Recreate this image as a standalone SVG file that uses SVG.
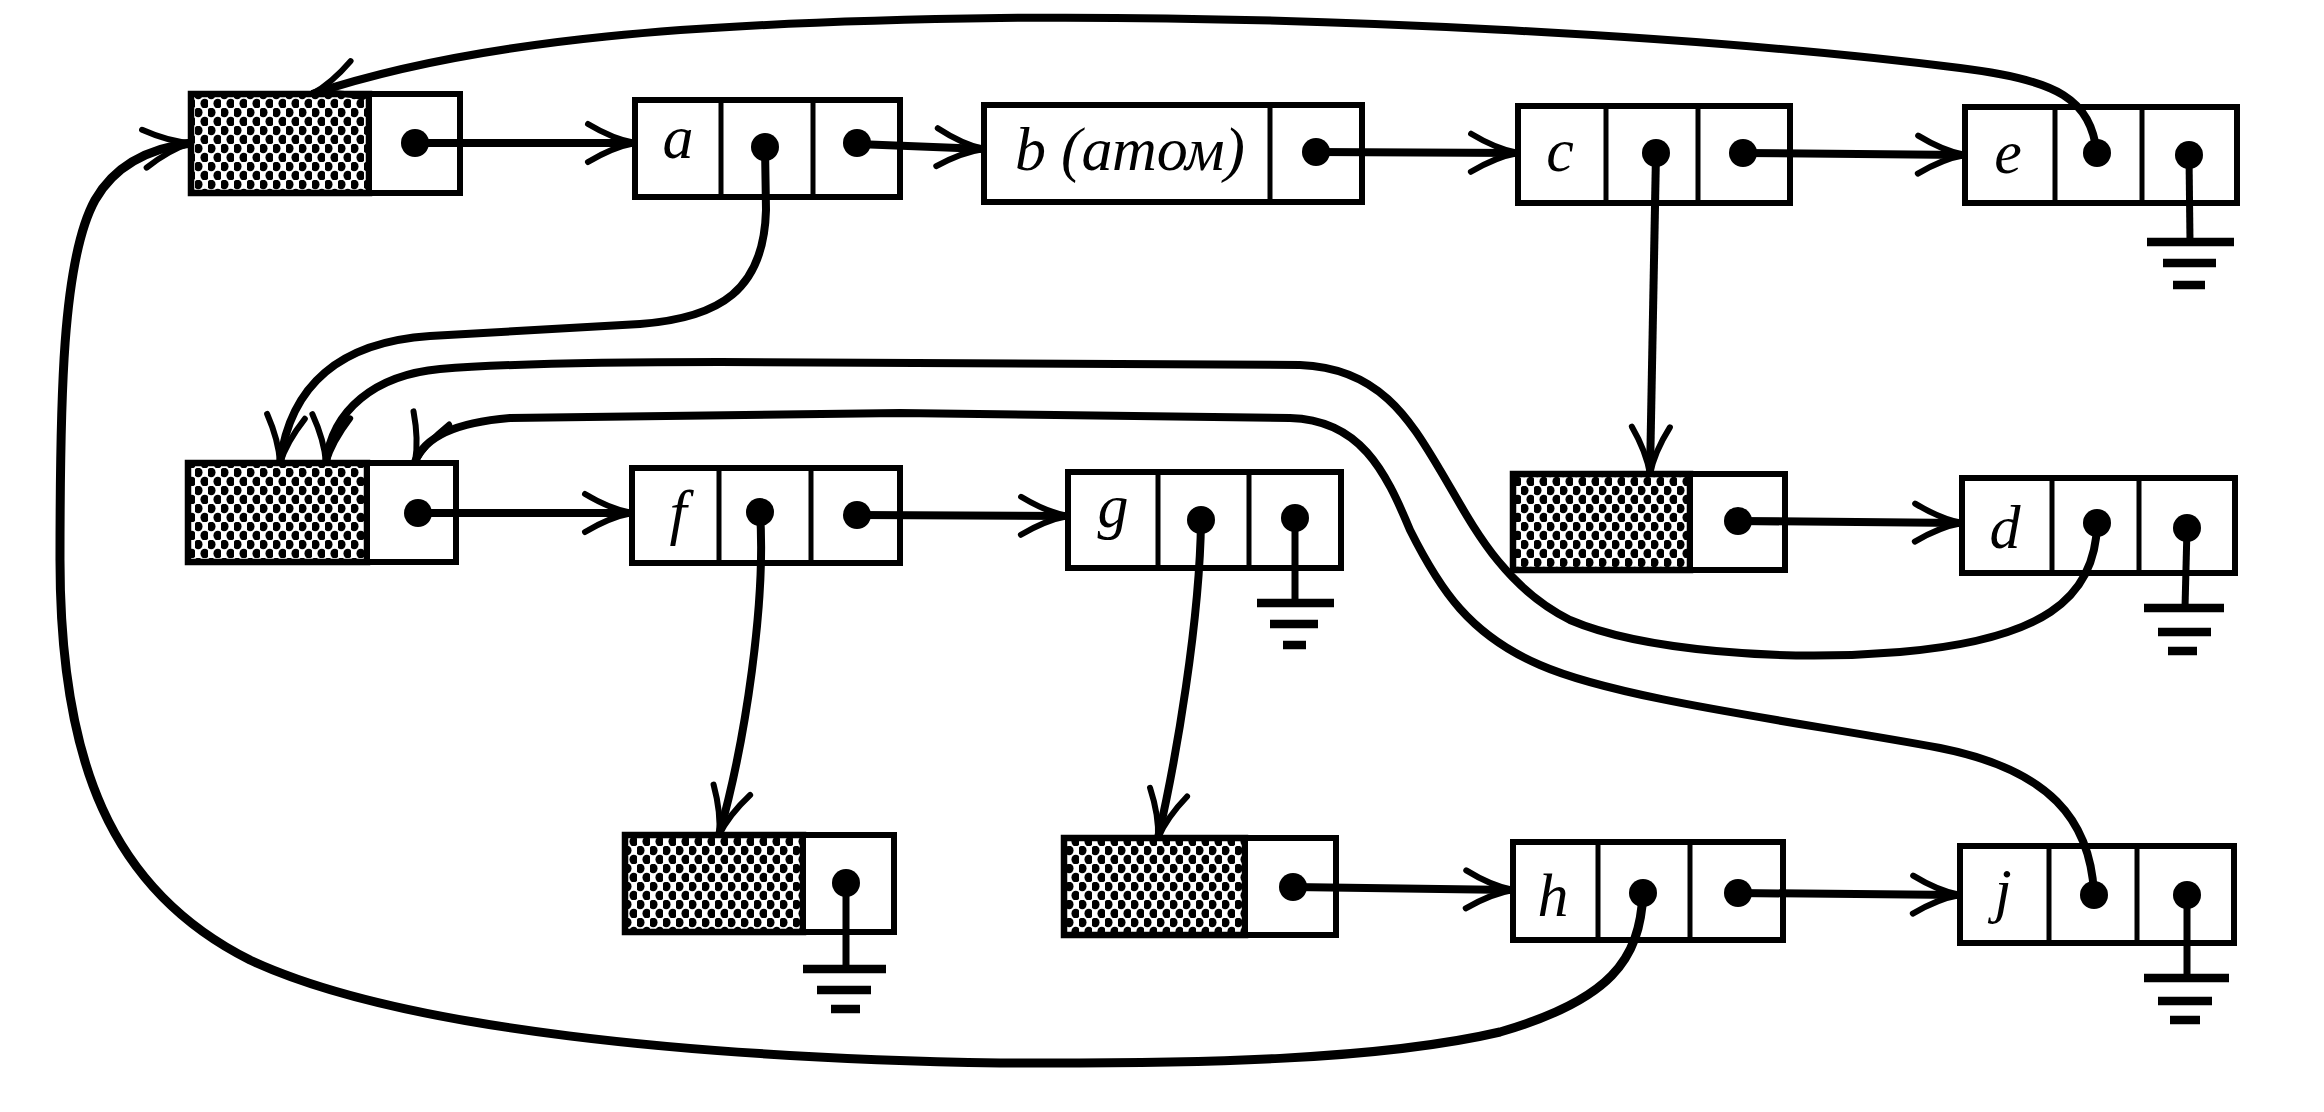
<svg xmlns="http://www.w3.org/2000/svg" width="2324" height="1112" viewBox="0 0 2324 1112">
<defs>
<pattern id="hatch" width="13" height="18" patternUnits="userSpaceOnUse">
<rect width="13" height="18" fill="#fff"/>
<ellipse cx="3.25" cy="4.5" rx="4.3" ry="4.8" fill="#000"/>
<ellipse cx="9.75" cy="13.5" rx="4.3" ry="4.8" fill="#000"/>
</pattern>
<marker id="arr" markerWidth="64" markerHeight="54" refX="52" refY="27" orient="auto" markerUnits="userSpaceOnUse" viewBox="0 0 64 54">
<path d="M5,8 Q30,23 52,27 Q30,31 5,46" fill="none" stroke="#000" stroke-width="6" stroke-linecap="round"/>
</marker>
<style>
.box{fill:#fff;stroke:#000;stroke-width:6}
.sh{fill:url(#hatch);stroke:#000;stroke-width:6.5}
.div{stroke:#000;stroke-width:5}
.dot{fill:#000}
.lbl{font-family:"Liberation Serif","DejaVu Serif",serif;font-style:italic;font-size:62px;fill:#000}
.con{fill:none;stroke:#000;stroke-width:8;marker-end:url(#arr)}
.thick{stroke-width:9}
.gnd{stroke:#000;stroke-width:8.5}
.stem{stroke:#000;stroke-width:7}
</style>
</defs>
<rect width="2324" height="1112" fill="#fff"/>

<g id="n1">
<rect class="sh" x="191" y="94" width="178" height="99"/>
<rect class="box" x="369" y="94" width="91" height="99"/>
<circle class="dot" cx="415" cy="143" r="14"/>
</g>
<g id="na">
<rect class="box" x="635" y="100" width="265" height="97"/>
<line class="div" x1="721" y1="100" x2="721" y2="197"/>
<line class="div" x1="813" y1="100" x2="813" y2="197"/>
<text class="lbl" x="678" y="158" text-anchor="middle">a</text>
<circle class="dot" cx="765" cy="147" r="14"/>
<circle class="dot" cx="857" cy="143" r="14"/>
</g>
<g id="nb">
<rect class="box" x="984" y="105" width="378" height="97"/>
<line class="div" x1="1270" y1="105" x2="1270" y2="202"/>
<text class="lbl" x="1015" y="170" textLength="230" lengthAdjust="spacing">b (атом)</text>
<circle class="dot" cx="1316" cy="152" r="14"/>
</g>
<g id="nc">
<rect class="box" x="1518" y="106" width="272" height="97"/>
<line class="div" x1="1606" y1="106" x2="1606" y2="203"/>
<line class="div" x1="1698" y1="106" x2="1698" y2="203"/>
<text class="lbl" x="1560" y="171" text-anchor="middle">c</text>
<circle class="dot" cx="1656" cy="153" r="14"/>
<circle class="dot" cx="1743" cy="153" r="14"/>
</g>
<g id="ne">
<rect class="box" x="1965" y="107" width="272" height="96"/>
<line class="div" x1="2055" y1="107" x2="2055" y2="203"/>
<line class="div" x1="2142" y1="107" x2="2142" y2="203"/>
<text class="lbl" x="2008" y="173" text-anchor="middle">e</text>
<circle class="dot" cx="2097" cy="153" r="14"/>
<circle class="dot" cx="2189" cy="155" r="14"/>
<line class="stem" x1="2189" y1="155" x2="2190" y2="242"/>
<line class="gnd" x1="2147" y1="242" x2="2234" y2="242"/>
<line class="gnd" x1="2163" y1="263" x2="2216" y2="263"/>
<line class="gnd" x1="2173" y1="285" x2="2205" y2="285"/>
</g>

<g id="n2">
<rect class="sh" x="188" y="463" width="179" height="99"/>
<rect class="box" x="367" y="463" width="89" height="99"/>
<circle class="dot" cx="418" cy="513" r="14"/>
</g>
<g id="nf">
<rect class="box" x="632" y="468" width="268" height="95"/>
<line class="div" x1="719" y1="468" x2="719" y2="563"/>
<line class="div" x1="811" y1="468" x2="811" y2="563"/>
<text class="lbl" x="678" y="533" text-anchor="middle">f</text>
<circle class="dot" cx="760" cy="512" r="14"/>
<circle class="dot" cx="857" cy="515" r="14"/>
</g>
<g id="ng">
<rect class="box" x="1068" y="472" width="273" height="96"/>
<line class="div" x1="1158" y1="472" x2="1158" y2="568"/>
<line class="div" x1="1249" y1="472" x2="1249" y2="568"/>
<text class="lbl" x="1113" y="527" text-anchor="middle">g</text>
<circle class="dot" cx="1201" cy="520" r="14"/>
<circle class="dot" cx="1295" cy="518" r="14"/>
<line class="stem" x1="1295" y1="518" x2="1295" y2="603"/>
<line class="gnd" x1="1257" y1="603" x2="1334" y2="603"/>
<line class="gnd" x1="1270" y1="624" x2="1318" y2="624"/>
<line class="gnd" x1="1283" y1="645" x2="1306" y2="645"/>
</g>
<g id="n3">
<rect class="sh" x="1513" y="474" width="177" height="96"/>
<rect class="box" x="1690" y="474" width="95" height="96"/>
<circle class="dot" cx="1738" cy="521" r="14"/>
</g>
<g id="nd">
<rect class="box" x="1962" y="478" width="273" height="95"/>
<line class="div" x1="2052" y1="478" x2="2052" y2="573"/>
<line class="div" x1="2139" y1="478" x2="2139" y2="573"/>
<text class="lbl" x="2005" y="548" text-anchor="middle">d</text>
<circle class="dot" cx="2097" cy="523" r="14"/>
<circle class="dot" cx="2187" cy="528" r="14"/>
<line class="stem" x1="2187" y1="528" x2="2185" y2="608"/>
<line class="gnd" x1="2144" y1="608" x2="2224" y2="608"/>
<line class="gnd" x1="2158" y1="632" x2="2211" y2="632"/>
<line class="gnd" x1="2168" y1="651" x2="2197" y2="651"/>
</g>

<g id="n4">
<rect class="sh" x="625" y="835" width="178" height="97"/>
<rect class="box" x="803" y="835" width="91" height="97"/>
<circle class="dot" cx="846" cy="883" r="14"/>
<line class="stem" x1="846" y1="883" x2="846" y2="969"/>
<line class="gnd" x1="803" y1="969" x2="886" y2="969"/>
<line class="gnd" x1="817" y1="990" x2="871" y2="990"/>
<line class="gnd" x1="831" y1="1009" x2="860" y2="1009"/>
</g>
<g id="n5">
<rect class="sh" x="1064" y="838" width="181" height="97"/>
<rect class="box" x="1245" y="838" width="91" height="97"/>
<circle class="dot" cx="1293" cy="887" r="14"/>
</g>
<g id="nh">
<rect class="box" x="1513" y="842" width="270" height="98"/>
<line class="div" x1="1598" y1="842" x2="1598" y2="940"/>
<line class="div" x1="1690" y1="842" x2="1690" y2="940"/>
<text class="lbl" x="1553" y="916" text-anchor="middle">h</text>
<circle class="dot" cx="1643" cy="893" r="14"/>
<circle class="dot" cx="1738" cy="893" r="14"/>
</g>
<g id="nj">
<rect class="box" x="1960" y="846" width="274" height="97"/>
<line class="div" x1="2049" y1="846" x2="2049" y2="943"/>
<line class="div" x1="2137" y1="846" x2="2137" y2="943"/>
<text class="lbl" x="2003" y="911" text-anchor="middle">j</text>
<circle class="dot" cx="2094" cy="895" r="14"/>
<circle class="dot" cx="2187" cy="895" r="14"/>
<line class="stem" x1="2187" y1="895" x2="2187" y2="978"/>
<line class="gnd" x1="2144" y1="978" x2="2229" y2="978"/>
<line class="gnd" x1="2158" y1="1001" x2="2212" y2="1001"/>
<line class="gnd" x1="2170" y1="1020" x2="2200" y2="1020"/>
</g>

<g id="connectors">
<path class="con" d="M415,143 L635,143"/>
<path class="con" d="M857,144 L984,149"/>
<path class="con" d="M1316,152 L1518,153"/>
<path class="con" d="M1743,153 L1965,155"/>
<path class="con" d="M1656,153 L1650,474"/>
<path class="con" d="M1738,521 L1962,523"/>
<path class="con" d="M418,513 L632,513"/>
<path class="con" d="M857,515 L1068,516"/>
<path class="con" d="M1293,887 L1513,890"/>
<path class="con" d="M1738,893 L1960,895"/>
<path class="con" d="M760,512 C766,600 746,740 719,835"/>
<path class="con" d="M1201,520 C1200,620 1176,760 1158,838"/>
<path class="con" d="M765,147 L766,210 C764,290 720,318 640,324 L430,336 C340,342 290,385 280,463"/>
<path class="con" d="M2097,523 C2096,600 2040,640 1900,652 C1780,662 1640,650 1570,620 C1500,585 1470,520 1440,470 C1410,420 1380,368 1300,365 L720,362 C600,362 500,364 440,369 C375,375 332,410 326,463"/>
<path class="con" d="M2094,893 C2090,820 2050,770 1940,748 C1800,722 1620,700 1540,665 C1470,635 1440,590 1410,530 C1385,470 1360,420 1290,418 L900,413 L510,418 C460,422 425,435 415,462"/>
<path class="con thick" d="M1643,893 C1640,960 1610,1000 1500,1032 C1380,1060 1200,1064 1000,1063 C700,1058 400,1030 250,960 C110,890 60,760 60,560 C60,400 62,260 95,200 C115,165 150,148 191,143"/>
<path class="con" d="M2097,153 C2090,100 2060,80 1960,68 C1700,35 1300,15 1000,18 C700,22 480,38 312,94"/>
</g>
</svg>
